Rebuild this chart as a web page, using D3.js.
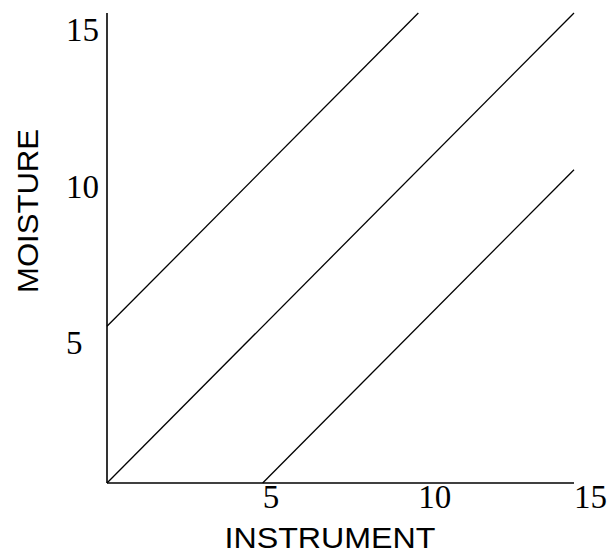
<!DOCTYPE html>
<html>
<head>
<meta charset="utf-8">
<script src="https://cdn.jsdelivr.net/npm/d3@7"></script>
<style>
  body { margin: 0; background: #fff; }
  svg { display: block; }
</style>
</head>
<body>
<svg id="chart" width="611" height="554"></svg>
<script>
// tick values on both axes
const xTicks = [5, 10, 15];
const yTicks = [5, 10, 15];

// the three straight lines, as [instrument, moisture] end points
const upperLine = [[0, 5], [10, 15]];
const middleLine = [[0, 0], [15, 15]];
const lowerLine = [[5, 0], [15, 10]];

const xLabel = "INSTRUMENT";
const yLabel = "MOISTURE";

const width = 611, height = 554;
const margin = {top: 13, right: 37, bottom: 71, left: 107};

const svg = d3.select("#chart");

const x = d3.scaleLinear()
  .domain([0, 15])
  .range([margin.left, width - margin.right]);

const y = d3.scaleLinear()
  .domain([0, 15])
  .range([height - margin.bottom, margin.top]);

// axis lines
svg.append("line")
  .attr("x1", x(0)).attr("y1", y(0))
  .attr("x2", x(15)).attr("y2", y(0))
  .attr("stroke", "#000").attr("stroke-width", 1.6);

svg.append("line")
  .attr("x1", x(0)).attr("y1", y(0))
  .attr("x2", x(0)).attr("y2", y(15))
  .attr("stroke", "#000").attr("stroke-width", 1.6);

// data lines
const line = d3.line().x(d => x(d[0])).y(d => y(d[1]));

svg.selectAll(".dline")
  .data([upperLine, middleLine, lowerLine])
  .join("path")
  .attr("class", "dline")
  .attr("d", line)
  .attr("fill", "none")
  .attr("stroke", "#000")
  .attr("stroke-width", 1.3);

// tick labels, left aligned like the original
svg.selectAll(".xtick")
  .data(xTicks)
  .join("text")
  .attr("class", "xtick")
  .attr("x", d => x(d))
  .attr("y", y(0) + 25)
  .attr("text-anchor", "start")
  .attr("font-family", "'Liberation Serif', 'Times New Roman', serif")
  .attr("font-size", "33px")
  .text(d => d);

svg.selectAll(".ytick")
  .data(yTicks)
  .join("text")
  .attr("class", "ytick")
  .attr("x", 66)
  .attr("y", d => y(d) + 28)
  .attr("text-anchor", "start")
  .attr("font-family", "'Liberation Serif', 'Times New Roman', serif")
  .attr("font-size", "33px")
  .text(d => d);

// axis titles
svg.append("text")
  .attr("x", 330)
  .attr("y", 548)
  .attr("text-anchor", "middle")
  .attr("font-family", "'Liberation Sans', Arial, sans-serif")
  .attr("font-size", "30px")
  .attr("textLength", 211)
  .attr("lengthAdjust", "spacingAndGlyphs")
  .text(xLabel);

svg.append("text")
  .attr("transform", "translate(38,211) rotate(-90)")
  .attr("text-anchor", "middle")
  .attr("font-family", "'Liberation Sans', Arial, sans-serif")
  .attr("font-size", "29px")
  .attr("textLength", 164)
  .attr("lengthAdjust", "spacingAndGlyphs")
  .text(yLabel);
</script>
</body>
</html>
